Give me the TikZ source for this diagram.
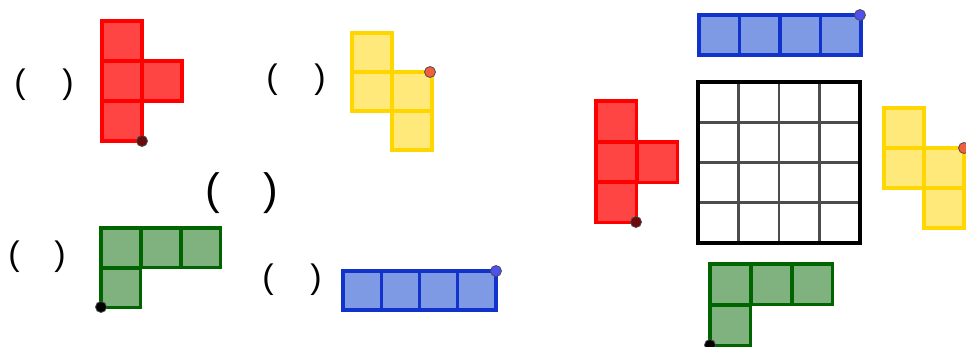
\documentclass[tikz,border=0pt]{standalone}
\usepackage{fontspec}
\setmainfont{Liberation Sans}
\begin{document}
\begin{tikzpicture}[x=1pt,y=-1pt,
  redp/.style={fill={rgb,255:red,255;green,68;blue,68},draw=red,line width=3.4pt},
  yelp/.style={fill={rgb,255:red,255;green,233;blue,122},draw={rgb,255:red,255;green,214;blue,0},line width=3.4pt},
  grnp/.style={fill={rgb,255:red,127;green,178;blue,127},draw={rgb,255:red,0;green,100;blue,0},line width=3.4pt},
  blup/.style={fill={rgb,255:red,127;green,154;blue,229},draw={rgb,255:red,17;green,51;blue,204},line width=3.4pt},
  paren/.style={inner sep=0pt,font=\fontsize{34}{34}\selectfont},
  bigparen/.style={inner sep=0pt,font=\fontsize{44}{44}\selectfont},
  dotp/.style={circle,inner sep=0pt,minimum size=11pt,draw=black!70,line width=0.8pt}]
\useasboundingbox (0,0) rectangle (966,346);
% left red
\foreach \x/\y in {102/21,102/61,142/61,102/101}
  \draw[redp] (\x,\y) rectangle ++(40,40);
\node[dotp,fill={rgb,255:red,110;green,10;blue,10}] (rd1) at (142,141) {};
\node[paren] (p1a) at (20,85) {(};
\node[paren] (p1b) at (68,85) {)};
% left yellow
\foreach \x/\y in {352/33,352/72,392/72,392/111}
  \draw[yelp] (\x,\y) rectangle ++(40,39);
\node[dotp,fill={rgb,255:red,240;green,96;blue,64}] (yd1) at (430,72) {};
\node[paren] (p2a) at (272,80) {(};
\node[paren] (p2b) at (320,80) {)};
% middle parens
\node[bigparen] (p3a) at (213,193) {(};
\node[bigparen] (p3b) at (271,193) {)};
% left green
\foreach \x/\y in {101/228,141/228,181/228,101/268}
  \draw[grnp] (\x,\y) rectangle ++(39.5,39.5);
\node[dotp,fill=black] (gd1) at (101,307) {};
\node[paren] (p4a) at (14,257) {(};
\node[paren] (p4b) at (60,257) {)};
% left blue
\foreach \i in {0,1,2,3}
  \draw[blup] (343+38.25*\i,271) rectangle ++(38.25,39);
\node[dotp,fill={rgb,255:red,80;green,80;blue,240}] (bd1) at (496,271) {};
\node[paren] (p5a) at (268,280) {(};
\node[paren] (p5b) at (316,280) {)};
% right blue
\foreach \i in {0,1,2,3}
  \draw[blup] (699+40.5*\i,15) rectangle ++(40.5,40);
\node[dotp,fill={rgb,255:red,80;green,80;blue,240}] (bd2) at (860,15) {};
% grid
\foreach \i in {1,2,3} {
  \draw[black!70,line width=2.6pt] (698+40.5*\i,82) -- (698+40.5*\i,243);
  \draw[black!70,line width=2.6pt] (698,82+40.25*\i) -- (860,82+40.25*\i);
}
\draw[black,line width=3.4pt] (698,82) rectangle (860,243);
% right red
\foreach \x/\y in {596/101,596/142,637/142,596/182}
  \draw[redp] (\x,\y) rectangle ++(40.5,40.5);
\node[dotp,fill={rgb,255:red,110;green,10;blue,10}] (rd2) at (636,222) {};
% right yellow
\foreach \x/\y in {884/108,884/148,924/148,924/188}
  \draw[yelp] (\x,\y) rectangle ++(40,40);
\node[dotp,fill={rgb,255:red,240;green,96;blue,64}] (yd2) at (964,148) {};
% right green
\foreach \x/\y in {710/264,751/264,792/264,710/305}
  \draw[grnp] (\x,\y) rectangle ++(40.7,40.7);
\node[dotp,fill=black] (gd2) at (710,345) {};
\end{tikzpicture}
\end{document}
